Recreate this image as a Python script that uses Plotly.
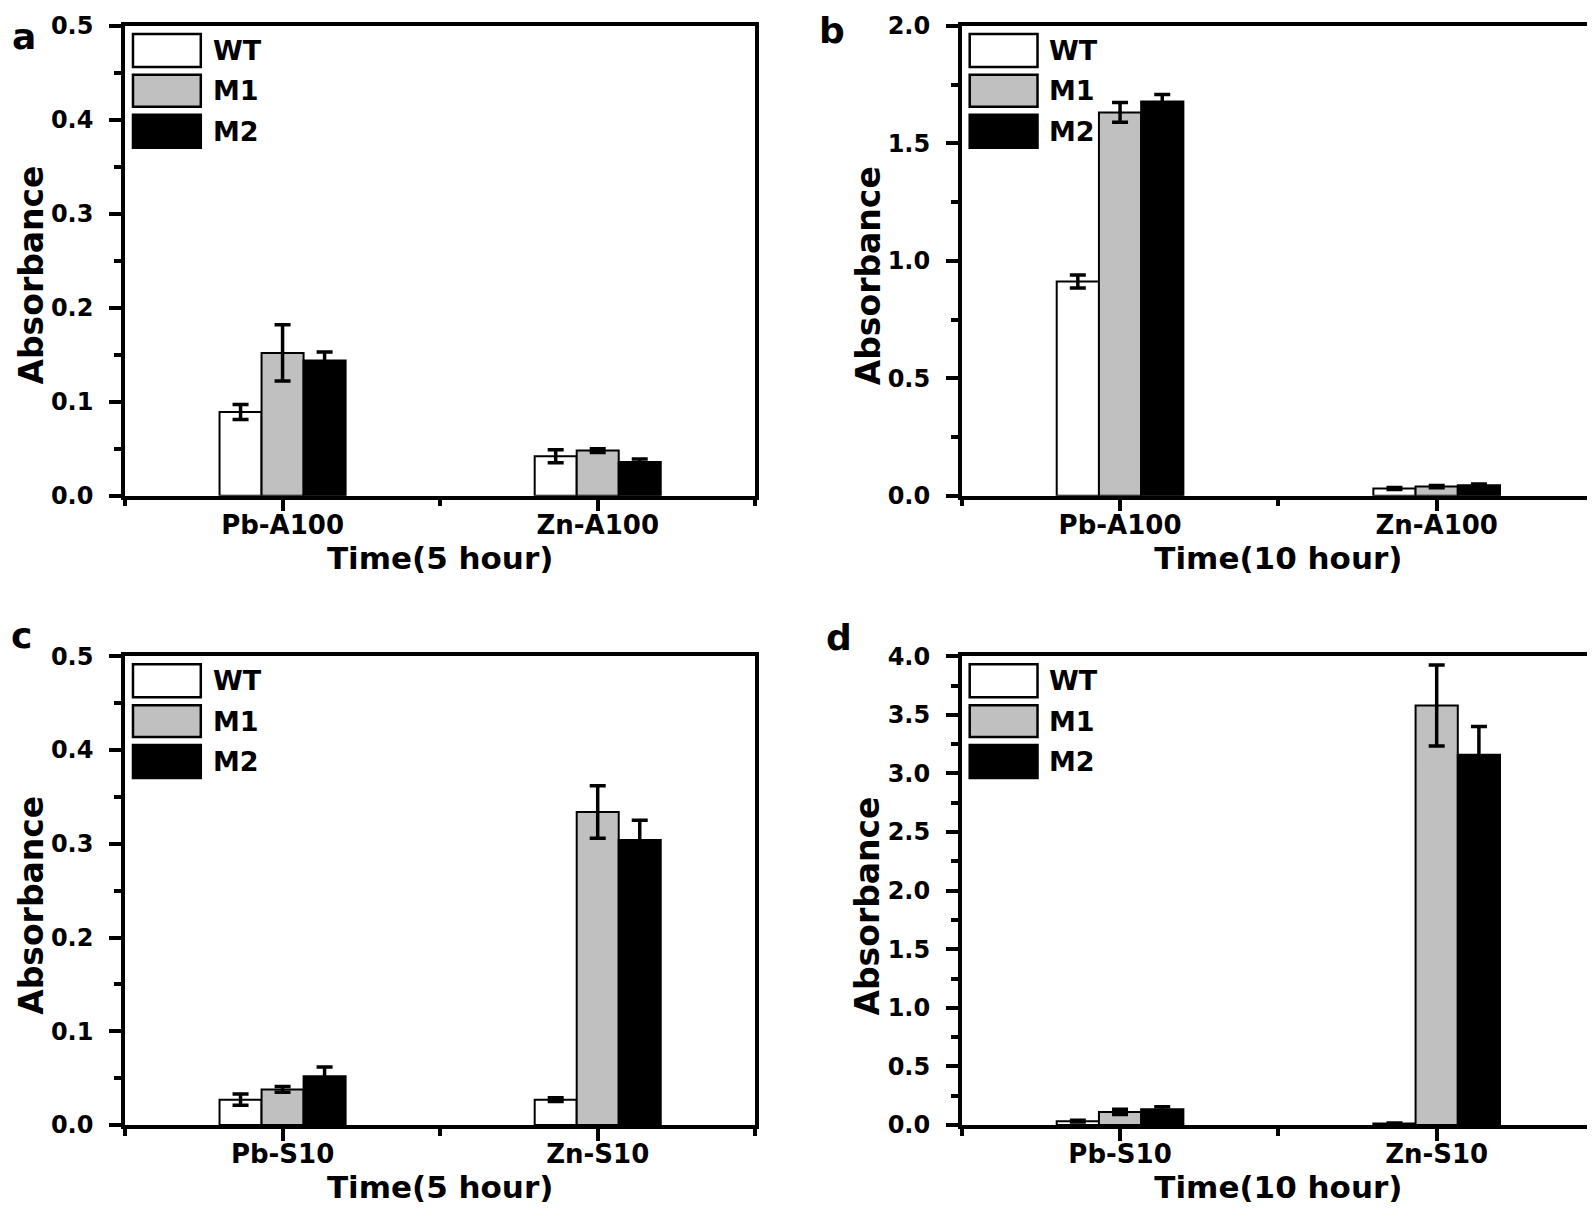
import plotly.graph_objects as go

# ---- data ----
series = ["WT", "M1", "M2"]

# panel a : 5 hour, A100
cats_a = ["Pb-A100", "Zn-A100"]
wt_a = [0.089, 0.042]
wt_a_err = [0.008, 0.007]
m1_a = [0.152, 0.048]
m1_a_err = [0.030, 0.002]
m2_a = [0.144, 0.036]
m2_a_err = [0.009, 0.003]

# panel b : 10 hour, A100
cats_b = ["Pb-A100", "Zn-A100"]
wt_b = [0.912, 0.031]
wt_b_err = [0.028, 0.004]
m1_b = [1.632, 0.039]
m1_b_err = [0.042, 0.005]
m2_b = [1.678, 0.045]
m2_b_err = [0.030, 0.005]

# panel c : 5 hour, S10
cats_c = ["Pb-S10", "Zn-S10"]
wt_c = [0.027, 0.027]
wt_c_err = [0.006, 0.002]
m1_c = [0.038, 0.334]
m1_c_err = [0.003, 0.028]
m2_c = [0.052, 0.304]
m2_c_err = [0.010, 0.021]

# panel d : 10 hour, S10
cats_d = ["Pb-S10", "Zn-S10"]
wt_d = [0.033, 0.013]
wt_d_err = [0.008, 0.004]
m1_d = [0.112, 3.58]
m1_d_err = [0.022, 0.345]
m2_d = [0.135, 3.16]
m2_d_err = [0.020, 0.24]

# y axis setup per panel: (max, major step, minor step)
y_a = [0.5, 0.1, 0.05]
y_b = [2.0, 0.5, 0.25]
y_c = [0.5, 0.1, 0.05]
y_d = [4.0, 0.5, 0.25]

xtitle_5 = "Time(5 hour)"
xtitle_10 = "Time(10 hour)"
ytitle = "Absorbance"
letters = ["a", "b", "c", "d"]

fills = ["white", "#c0c0c0", "black"]
FONT = "DejaVu Sans"

panels = [
	(cats_a, [wt_a, m1_a, m2_a], [wt_a_err, m1_a_err, m2_a_err], y_a, xtitle_5),
	(cats_b, [wt_b, m1_b, m2_b], [wt_b_err, m1_b_err, m2_b_err], y_b, xtitle_10),
	(cats_c, [wt_c, m1_c, m2_c], [wt_c_err, m1_c_err, m2_c_err], y_c, xtitle_5),
	(cats_d, [wt_d, m1_d, m2_d], [wt_d_err, m1_d_err, m2_d_err], y_d, xtitle_10),
]

W, H = 1595, 1212
ML, MR, MT, MB = 117, 4, 15, 95
PW, PH = W - ML - MR, H - MT - MB

def px_x(p):
	return (p - ML) / PW

def px_y(p):
	return (H - MB - p) / PH

x_domains = [[0, px_x(749)], [px_x(956), 1.0]]
y_domains = [[px_y(486), 1.0], [0, px_y(647)]]

fig = go.Figure()
shapes = []
annotations = []

#y titles sit a bit below the panel middle in the original
ytitle_pos = [(23, 265), (862, 265), (23, 897), (862, 897)]

for i, (cats, vals, errs, yset, xtitle) in enumerate(panels):
	n = i + 1
	sfx = "" if n == 1 else str(n)
	row, col = i // 2, i % 2
	for s, name in enumerate(series):
		fig.add_trace(go.Bar(
			x=[0, 1], y=vals[s], name=name,
			xaxis="x" + sfx, yaxis="y" + sfx,
			marker=dict(color=fills[s], line=dict(color="black", width=2)),
			error_y=dict(type="data", array=errs[s], color="black", thickness=3.5, width=8),
			showlegend=False,
		))

	fig.layout["xaxis" + sfx] = dict(
		domain=x_domains[col], anchor="y" + sfx,
		range=[-0.5, 1.5], tickmode="array", tickvals=[0, 1], ticktext=cats,
		showline=True, linewidth=3.5, linecolor="black", mirror=True,
		ticks="outside", ticklen=12, tickwidth=3.5, tickcolor="black",
		minor=dict(tick0=0.5, dtick=1, ticks="outside", ticklen=7, tickwidth=3.5, tickcolor="black"),
		showgrid=False, zeroline=False, ticklabelstandoff=-9,
		tickfont=dict(family=FONT, size=26, color="black", weight="bold"),
		title=dict(text=xtitle, standoff=6, font=dict(family=FONT, size=31, color="black", weight="bold")),
	)
	fig.layout["yaxis" + sfx] = dict(
		domain=y_domains[row], anchor="x" + sfx,
		range=[0, yset[0]], dtick=yset[1], tick0=0, tickformat=".1f",
		showline=True, linewidth=3.5, linecolor="black", mirror=True,
		ticks="outside", ticklen=12, tickwidth=3.5, tickcolor="black",
		minor=dict(dtick=yset[2], ticks="outside", ticklen=7, tickwidth=3.5, tickcolor="black"),
		showgrid=False, zeroline=False, ticklabelstandoff=11,
		tickfont=dict(family=FONT, size=24, color="black", weight="bold"),
	)

	tx, ty = ytitle_pos[i]
	annotations.append(dict(
		text=ytitle, xref="paper", yref="paper", x=px_x(tx), y=px_y(ty),
		xanchor="center", yanchor="middle", textangle=-90, showarrow=False,
		font=dict(family=FONT, size=33, color="black", weight="bold"),
	))

	# legend drawn as boxes + labels inside each panel
	pw = (x_domains[col][1] - x_domains[col][0]) * PW
	ph = (y_domains[row][1] - y_domains[row][0]) * PH
	rows = [(8, 41), (49, 81), (89, 122)]
	for s, name in enumerate(series):
		top, bot = rows[s]
		shapes.append(dict(
			type="rect", xref="x" + sfx + " domain", yref="y" + sfx + " domain",
			x0=8 / pw, x1=76 / pw, y0=1 - bot / ph, y1=1 - top / ph,
			fillcolor=fills[s], line=dict(color="black", width=2.5),
		))
		annotations.append(dict(
			text=name, xref="x" + sfx + " domain", yref="y" + sfx + " domain",
			x=86 / pw, y=1 - (top + bot) / 2 / ph, xanchor="left", yanchor="middle",
			showarrow=False, font=dict(family=FONT, size=27, color="black", weight="bold"),
		))

letter_pos = [(16, 26), (826, 20), (13, 626), (833, 628)]
for letter, (lx, ly) in zip(letters, letter_pos):
	annotations.append(dict(
		text=letter, xref="paper", yref="paper", x=px_x(lx), y=px_y(ly),
		xanchor="center", yanchor="middle", showarrow=False,
		font=dict(family=FONT, size=36, color="black", weight="bold"),
	))

fig.update_layout(
	width=W, height=H,
	margin=dict(l=ML, r=MR, t=MT, b=MB),
	paper_bgcolor="white", plot_bgcolor="white",
	barmode="group", bargap=0.6, bargroupgap=0,
	shapes=shapes, annotations=annotations,
	showlegend=False,
)

fig.write_html("out.html")
